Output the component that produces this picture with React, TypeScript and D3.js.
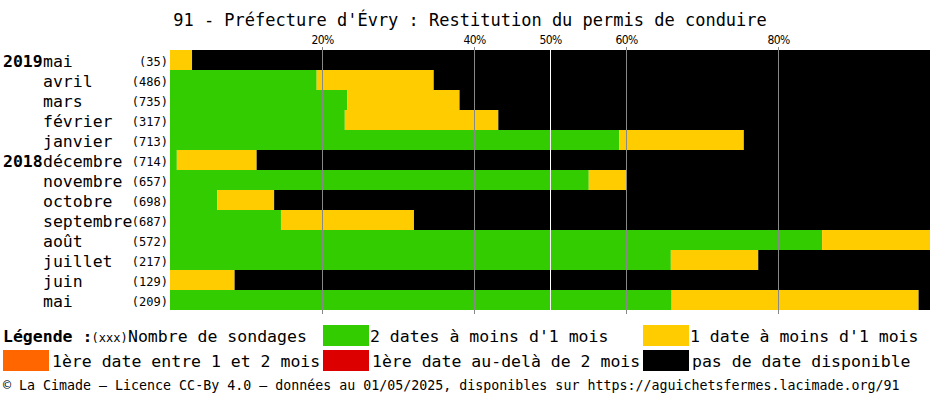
import React from "react";
import * as d3 from "d3";

const title = "91 - Préfecture d'Évry : Restitution du permis de conduire";
const years = ["2019", "", "", "", "", "2018", "", "", "", "", "", "", ""];
const months = ["mai", "avril", "mars", "février", "janvier", "décembre", "novembre", "octobre", "septembre", "août", "juillet", "juin", "mai"];
const counts = [35, 486, 735, 317, 713, 714, 657, 698, 687, 572, 217, 129, 209];
// percentages: 2 dates < 1 mois (green), 1 date < 1 mois (yellow), 1-2 mois (orange), > 2 mois (red)
const greenPct = [0, 19.3, 23.3, 23.0, 59.1, 0.9, 55.1, 6.2, 14.6, 85.8, 65.9, 0, 66.0];
const yellowPct = [2.9, 15.4, 14.8, 20.2, 16.4, 10.5, 4.9, 7.5, 17.5, 14.2, 11.5, 8.5, 32.5];
const orangePct = [0, 0, 0, 0, 0, 0, 0, 0, 0, 0, 0, 0, 0];
const redPct = [0, 0, 0, 0, 0, 0, 0, 0, 0, 0, 0, 0, 0];
const gridTicks = [20, 40, 50, 60, 80];
const footer = "© La Cimade — Licence CC-By 4.0 — données au 01/05/2025, disponibles sur https://aguichetsfermes.lacimade.org/91";

const COLORS = { green: "#33cc00", yellow: "#ffcc00", orange: "#ff6600", red: "#dd0000", black: "#000000" };
const MONO = "'DejaVu Sans Mono', monospace";
const FS = 16.5;

export default function App() {
  const W = 930, H = 395;
  const x = d3.scaleLinear().domain([0, 100]).range([170, 930]);
  const y = d3.scaleBand().domain(months.map((_, i) => String(i))).range([50, 310]).padding(0);

  const rows = months.map((m, i) => {
    const segs: { key: string; start: number; end: number; color: string }[] = [];
    let acc = 0;
    const parts = [
      ["g", greenPct[i], COLORS.green],
      ["y", yellowPct[i], COLORS.yellow],
      ["o", orangePct[i], COLORS.orange],
      ["r", redPct[i], COLORS.red],
    ] as [string, number, string][];
    parts.forEach(([k, v, c]) => {
      if (v > 0) segs.push({ key: k, start: acc, end: acc + v, color: c });
      acc += v;
    });
    if (acc < 100) segs.push({ key: "b", start: acc, end: 100, color: COLORS.black });
    return segs;
  });

  const legend1 = [
    { color: COLORS.green, x: 323, label: "2 dates à moins d'1 mois" },
    { color: COLORS.yellow, x: 643, label: "1 date à moins d'1 mois" },
  ];
  const legend2 = [
    { color: COLORS.orange, x: 3, label: "1ère date entre 1 et 2 mois" },
    { color: COLORS.red, x: 323, label: "1ère date au-delà de 2 mois" },
    { color: COLORS.black, x: 643, label: "pas de date disponible" },
  ];

  return (
    <svg width={W} height={H} style={{ position: "absolute", left: 0, top: 0, background: "#fff" }}>
      <text x={470} y={26} textAnchor="middle" fontFamily={MONO} fontSize={17} fill="#000">{title}</text>
      {rows.map((segs, i) => (
        <g key={i}>
          {segs.map((s) => (
            <rect key={s.key} x={x(s.start)} y={y(String(i))} width={x(s.end) - x(s.start)} height={y.bandwidth()} fill={s.color} />
          ))}
        </g>
      ))}
      {gridTicks.map((t) => (
        <g key={t}>
          {t === 50 ? (
            <line x1={x(t) + 0.5} x2={x(t) + 0.5} y1={50} y2={310} stroke="#ffffff" strokeWidth={1} />
          ) : (
            <line x1={x(t) + 0.5} x2={x(t) + 0.5} y1={47} y2={314} stroke="#888888" strokeWidth={1} />
          )}
          <text x={x(t) + 0.5} y={44} textAnchor="middle" fontFamily="'DejaVu Sans Condensed', 'DejaVu Sans', sans-serif" fontSize={12} letterSpacing={-0.6} fill="#000">{t}%</text>
        </g>
      ))}
      {months.map((m, i) => {
        const cy = (y(String(i)) as number) + y.bandwidth() / 2;
        return (
          <g key={i}>
            {years[i] && (
              <text x={3} y={cy + 6.5} fontFamily={MONO} fontWeight="bold" fontSize={FS} fill="#000">{years[i]}</text>
            )}
            <text x={43} y={cy + 6.5} fontFamily={MONO} fontSize={FS} fill="#000">{m}</text>
            <text x={168} y={cy + 6} textAnchor="end" fontFamily={MONO} fontSize={12} fill="#000">({counts[i]})</text>
          </g>
        );
      })}
      <text x={3} y={342} fontFamily={MONO} fontWeight="bold" fontSize={FS} fill="#000">Légende :</text>
      <text x={91.5} y={342} fontFamily={MONO} fontSize={12} fill="#000">(xxx)</text>
      <text x={128} y={342} fontFamily={MONO} fontSize={FS} fill="#000">Nombre de sondages</text>
      {legend1.map((l) => (
        <g key={l.label}>
          <rect x={l.x} y={325} width={46} height={21} fill={l.color} />
          <text x={l.x + 47} y={342} fontFamily={MONO} fontSize={FS} fill="#000">{l.label}</text>
        </g>
      ))}
      {legend2.map((l) => (
        <g key={l.label}>
          <rect x={l.x} y={350} width={46} height={21} fill={l.color} />
          <text x={l.x + 49} y={367} fontFamily={MONO} fontSize={FS} fill="#000">{l.label}</text>
        </g>
      ))}
      <text x={3} y={390} fontFamily={MONO} fontSize={13.3} fill="#000">{footer}</text>
    </svg>
  );
}
